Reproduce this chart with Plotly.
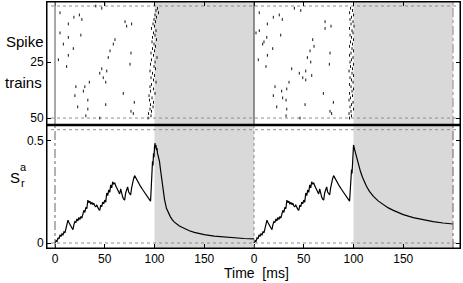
import plotly.graph_objects as go

# ---------------- data ----------------
tick_vals = [0, 50, 100, 150, 200, 250, 300, 350]
tick_text = ["0", "50", "100", "150", "0", "50", "100", "150"]
panel_offset = [0, 200]

# spike raster, left panel (time ms, train index)
left_spike_t = [5, 41, 47, 50, 19, 24.5, 27, 13.4, 5, 26, 13.4, 8.4, 18.4, 13.4, 3.4, 11.7, 47, 45, 52,
                48.5, 51, 34.5, 30, 21, 28.5, 20, 33, 51, 22.8, 33, 31, 45, 55.3, 58.6, 60.3, 53.5,
                70.4, 72, 77, 76.4, 75.4, 68.6, 79.7, 76.4, 78.7]
left_spike_row = [3, 0, 1, -1, 5, 4, 6, 8, 12, 13, 14, 17, 19, 22, 24, 27, 28, 30, 29,
                  32, 34, 34, 36, 36, 38, 40, 42, 44, 45, 46, 49, 50, 20, 17, 15, 23,
                  7, 9, 8, 21, 26, 39, 43, 47, 48]
left_burst_t = [103, 101.5, 104, 100.5, 102, 99.5, 101, 98.5, 100, 97, 101.5, 99, 100.5, 98, 102, 97.5,
                99.5, 101, 98, 100, 96.5, 99, 102.5, 97, 100.5, 96, 99.5, 101, 95.5, 98, 100, 96.5,
                99, 101.5, 97, 95.5, 99, 96, 100.5, 94.5, 97.5, 95, 99, 96, 98.5, 95.5, 97, 94, 96.5, 93.5]

# spike raster, right panel
right_spike_t = [5.3, 19.4, 25.4, 28.4, 40.5, 47, 13.4, 2, 5.3, 26.8, 12.8, 10, 8.7, 18.8, 13.4, 4.3, 12,
                 37.9, 45.5, 52, 49, 52, 58, 35.2, 32.9, 21.1, 27.8, 19.4, 28.8, 32.2, 22.8, 32.9, 32.2,
                 46.2, 51.3, 59, 60.3, 56.3, 53.6, 57, 76.4, 75.7, 71.4, 71.4, 77.4, 69.7, 79.7, 76.4, 78]
right_spike_row = [3, 5, 4, 6, 1, 2, 8, 12, 11, 13, 14, 16, 17, 19, 22, 24, 27,
                   28, 30, 29, 32, 33, 31, 34, 37, 36, 38, 40, 41, 42, 45, 46, 49,
                   50, 44, 15, 18, 20, 23, 25, 21, 26, 7, 10, 9, 39, 43, 47, 48]
right_burst_t = [97, 99, 96, 100, 98, 96.5, 99.5, 97.5, 100.5, 96, 98.5, 99.5, 96.5, 98, 100, 97, 99, 96,
                 98.5, 100, 97.5, 96, 99.5, 98, 96.5, 100, 97, 99, 95.5, 98.5, 100, 96.5, 98, 99.5, 96,
                 97.5, 100, 98.5, 96, 99, 97, 95.5, 99.5, 98, 96.5, 100, 97.5, 95.5, 98, 96]
burst_rows = list(range(1, 51))

# S_r^a trace: common rising part (0-96 ms)
rise_t = [0, 1, 2, 3, 4, 5, 6, 7, 8, 9, 10, 11, 12, 13, 14, 15, 16, 17, 18, 19, 20, 21, 22, 23, 24, 25,
          26, 27, 28, 29, 30, 31, 32, 33, 34, 35, 36, 37, 38, 39, 40, 41, 42, 43, 44, 45, 46, 47, 48,
          49, 50, 51, 52, 53, 54, 55, 56, 57, 58, 59, 60, 61, 62, 63, 64, 65, 66, 67, 68, 69, 70, 71,
          72, 73, 74, 75, 76, 77, 78, 79, 80, 82, 84, 86, 88, 90, 92, 94, 96]
rise_v = [0, 0.012, 0.008, 0.025, 0.02, 0.04, 0.032, 0.045, 0.04, 0.055, 0.05, 0.07, 0.09, 0.112, 0.1,
          0.09, 0.08, 0.072, 0.065, 0.09, 0.105, 0.1, 0.118, 0.108, 0.125, 0.115, 0.13, 0.122, 0.145,
          0.16, 0.15, 0.175, 0.168, 0.21, 0.198, 0.205, 0.19, 0.2, 0.188, 0.195, 0.182, 0.178, 0.185,
          0.17, 0.165, 0.16, 0.185, 0.178, 0.2, 0.192, 0.21, 0.2, 0.245, 0.232, 0.26, 0.248, 0.285,
          0.27, 0.3, 0.288, 0.295, 0.28, 0.27, 0.258, 0.25, 0.24, 0.265, 0.24, 0.225, 0.215, 0.21,
          0.245, 0.26, 0.275, 0.25, 0.238, 0.235, 0.27, 0.3, 0.315, 0.33, 0.31, 0.293, 0.277, 0.262,
          0.247, 0.232, 0.218, 0.205]

# left panel: burst and fast decay
left_tail_t = [96.5, 97, 97.5, 98, 98.5, 99, 99.5, 100, 100.5, 101, 101.5, 102, 102.5, 103, 104, 105,
               106, 107, 108, 109, 110, 112, 114, 116, 118, 120, 125, 130, 135, 140, 145, 150, 160,
               170, 180, 190, 200]
left_tail_v = [0.25, 0.33, 0.31, 0.4, 0.38, 0.44, 0.42, 0.47, 0.49, 0.465, 0.48, 0.455, 0.465, 0.44,
               0.425, 0.4, 0.36, 0.32, 0.28, 0.245, 0.215, 0.17, 0.145, 0.128, 0.113, 0.102, 0.083,
               0.07, 0.06, 0.052, 0.046, 0.041, 0.034, 0.029, 0.025, 0.022, 0.02]

# right panel: burst and slow decay
right_tail_t = [96.5, 97, 97.5, 98, 98.5, 99, 99.5, 100, 101, 102, 103, 104, 105, 107, 109, 111, 113,
                116, 120, 125, 130, 135, 140, 145, 150, 160, 170, 180, 190, 200]
right_tail_v = [0.24, 0.3, 0.28, 0.36, 0.34, 0.42, 0.4, 0.48, 0.46, 0.44, 0.42, 0.4, 0.385, 0.35,
                0.322, 0.298, 0.278, 0.253, 0.228, 0.205, 0.187, 0.172, 0.16, 0.149, 0.139, 0.124,
                0.113, 0.105, 0.098, 0.093]

# ---------------- figure ----------------
FONT = "Liberation Sans, Arial, Helvetica, sans-serif"
fig = go.Figure()

spike_marker = dict(symbol="line-ns", size=2, line=dict(width=1, color="#111"))

for off, st, sr, bt in [(panel_offset[0], left_spike_t, left_spike_row, left_burst_t),
                        (panel_offset[1], right_spike_t, right_spike_row, right_burst_t)]:
    fig.add_trace(go.Scatter(x=[t + off for t in st + bt], y=sr + burst_rows, mode="markers",
                             marker=spike_marker, xaxis="x2", yaxis="y2", showlegend=False,
                             hoverinfo="skip"))

for off, tt, tv in [(panel_offset[0], left_tail_t, left_tail_v),
                    (panel_offset[1], right_tail_t, right_tail_v)]:
    fig.add_trace(go.Scatter(x=[t + off for t in rise_t + tt], y=rise_v + tv, mode="lines",
                             line=dict(color="black", width=1.2), xaxis="x", yaxis="y",
                             showlegend=False, hoverinfo="skip"))

shapes = []
# stimulus-off shading
for off in panel_offset:
    shapes.append(dict(type="rect", xref="x", yref="paper", x0=off + 100, x1=off + 200, y0=0, y1=1,
                       fillcolor="#d9d9d9", line=dict(width=0), layer="below"))
# horizontal dotted guides
for yref, yv in [("y2", 0), ("y2", 50), ("y", 0), ("y", 0.555)]:
    shapes.append(dict(type="line", xref="x", yref=yref, x0=-4, x1=403, y0=yv, y1=yv,
                       line=dict(color="#8c8c8c", width=1, dash="dot"), layer="below"))
# vertical guides
vlines = [
    (0, 0.5, 1, "#8c8c8c", "solid", 1.5),
    (0, 0, 0.5, "#666666", "dashdot", 1),
    (200, 0.5, 1, "#333333", "solid", 1),
    (200, 0, 0.5, "#8c8c8c", "dot", 1),
    (400, 0.5, 1, "#8c8c8c", "dashdot", 1),
    (400, 0, 0.5, "#666666", "dashdot", 1),
]
for xv, y0, y1, col, dash, w in vlines:
    shapes.append(dict(type="line", xref="x", yref="paper", x0=xv, x1=xv, y0=y0, y1=y1,
                       line=dict(color=col, width=w, dash=dash), layer="above"))
# frame and panel separator
shapes.append(dict(type="rect", xref="paper", yref="paper", x0=0, x1=1, y0=0, y1=1,
                   line=dict(color="black", width=1)))
shapes.append(dict(type="line", xref="paper", yref="paper", x0=0, x1=1, y0=0.5, y1=0.5,
                   line=dict(color="black", width=2.5)))

axis_common = dict(showgrid=False, zeroline=False, ticks="inside", ticklen=4, tickcolor="black",
                   tickfont=dict(family=FONT, size=12, color="black"))

W, H = 463, 283
ML, MR, MT, MB = 47, 3, 2, 35
pw, ph = W - ML - MR, H - MT - MB


def px(x):
    return (x - ML) / pw


def py(y):
    return (H - MB - y) / ph


annotations = [
    dict(text="Spike", x=px(24.5), y=py(41.5), size=15),
    dict(text="trains", x=px(23.7), y=py(83), size=15),
    dict(text="S", x=px(15.3), y=py(177.8), size=15),
    dict(text="a", x=px(23.5), y=py(167), size=11),
    dict(text="r", x=px(22.5), y=py(182.9), size=11),
    dict(text="Time\u00a0 [ms]", x=px(256.3), y=py(272.5), size=14),
]
fig.update_layout(annotations=[
    dict(text=a["text"], x=a["x"], y=a["y"], xref="paper", yref="paper", showarrow=False,
         xanchor="center", yanchor="middle", font=dict(family=FONT, size=a["size"], color="black"))
    for a in annotations])

fig.update_layout(
    width=W, height=H,
    margin=dict(l=ML, r=MR, t=MT, b=MB),
    paper_bgcolor="white", plot_bgcolor="white",
    shapes=shapes,
    xaxis=dict(anchor="y", domain=[0, 1], range=[-8.04, 407], tickvals=tick_vals, ticktext=tick_text,
               showline=True, linecolor="black", linewidth=1, mirror=False, **axis_common),
    xaxis2=dict(anchor="y2", matches="x", side="top", tickvals=tick_vals, showticklabels=False,
                showline=True, linecolor="black", linewidth=1, mirror=False, **axis_common),
    yaxis=dict(domain=[0, 0.5], range=[-0.0245, 0.578], tickvals=[0, 0.5], ticktext=["0", "0.5"],
               showline=True, linecolor="black", linewidth=1, mirror="ticks", **axis_common),
    yaxis2=dict(domain=[0.5, 1], range=[53.1, -1.79], tickvals=[25, 50], ticktext=["25", "50"],
                showline=True, linecolor="black", linewidth=1, mirror="ticks", **axis_common),
    font=dict(family=FONT, color="black"),
)

fig.write_html("out.html", config={"displayModeBar": False},
               post_script="document.body.style.margin='0';")
